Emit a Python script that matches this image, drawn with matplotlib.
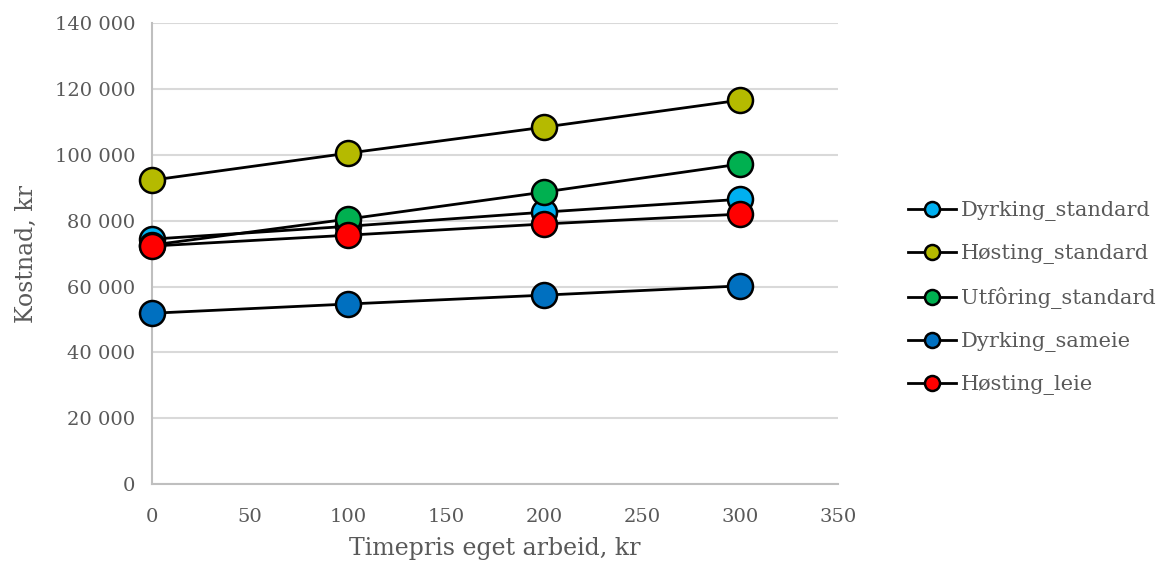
import matplotlib.pyplot as plt
from matplotlib.ticker import FuncFormatter

# data
timepris = [0, 100, 200, 300]
series_names = ['Dyrking_standard', 'Høsting_standard', 'Utfôring_standard',
                'Dyrking_sameie', 'Høsting_leie']
dyrking_standard = [74400, 78300, 82600, 86500]
hosting_standard = [92300, 100500, 108400, 116600]
utforing_standard = [72600, 80500, 88700, 97200]
dyrking_sameie = [51900, 54700, 57400, 60200]
hosting_leie = [72300, 75600, 79000, 82000]
colors = ['#00B0F0', '#B5BA00', '#00B050', '#0070C0', '#FF0000']

plt.rcParams['font.family'] = ['DejaVu Serif']
grey = '#595959'

fig = plt.figure(figsize=(11.64, 5.63), dpi=100)
ax = fig.add_axes([0.1306, 0.140, 0.5894, 0.819])

all_series = [dyrking_standard, hosting_standard, utforing_standard,
              dyrking_sameie, hosting_leie]
for name, vals, c in zip(series_names, all_series, colors):
    ax.plot(timepris, vals, color='black', linewidth=2, marker='o',
            markersize=18, markerfacecolor=c, markeredgecolor='black',
            markeredgewidth=1.8, label=name, clip_on=False, zorder=3)

ax.set_xlim(0, 350)
ax.set_ylim(0, 140000)
ax.set_xticks(range(0, 351, 50))
ax.set_yticks(range(0, 140001, 20000))
ax.yaxis.set_major_formatter(FuncFormatter(lambda v, p: f'{int(v):,}'.replace(',', ' ')))
ax.grid(axis='y', color='#D9D9D9', linewidth=1.5)
ax.set_axisbelow(True)
for s in ['top', 'right']:
    ax.spines[s].set_visible(False)
for s in ['left', 'bottom']:
    ax.spines[s].set_color('#BFBFBF')
    ax.spines[s].set_linewidth(1.5)
ax.tick_params(length=0, labelsize=14, colors=grey, pad=12)
ax.tick_params(axis='x', pad=17)

ax.set_xlabel('Timepris eget arbeid, kr', fontsize=17, color=grey, labelpad=8)
ax.set_ylabel('Kostnad, kr', fontsize=17, color=grey, labelpad=12)

leg = fig.legend(loc='upper left', bbox_to_anchor=(0.764, 0.676), frameon=False,
                 fontsize=15, labelspacing=1.1, handlelength=2.3,
                 handletextpad=0.25, markerscale=0.6)
for t in leg.get_texts():
    t.set_color(grey)

fig.savefig('out.png', dpi=100)
